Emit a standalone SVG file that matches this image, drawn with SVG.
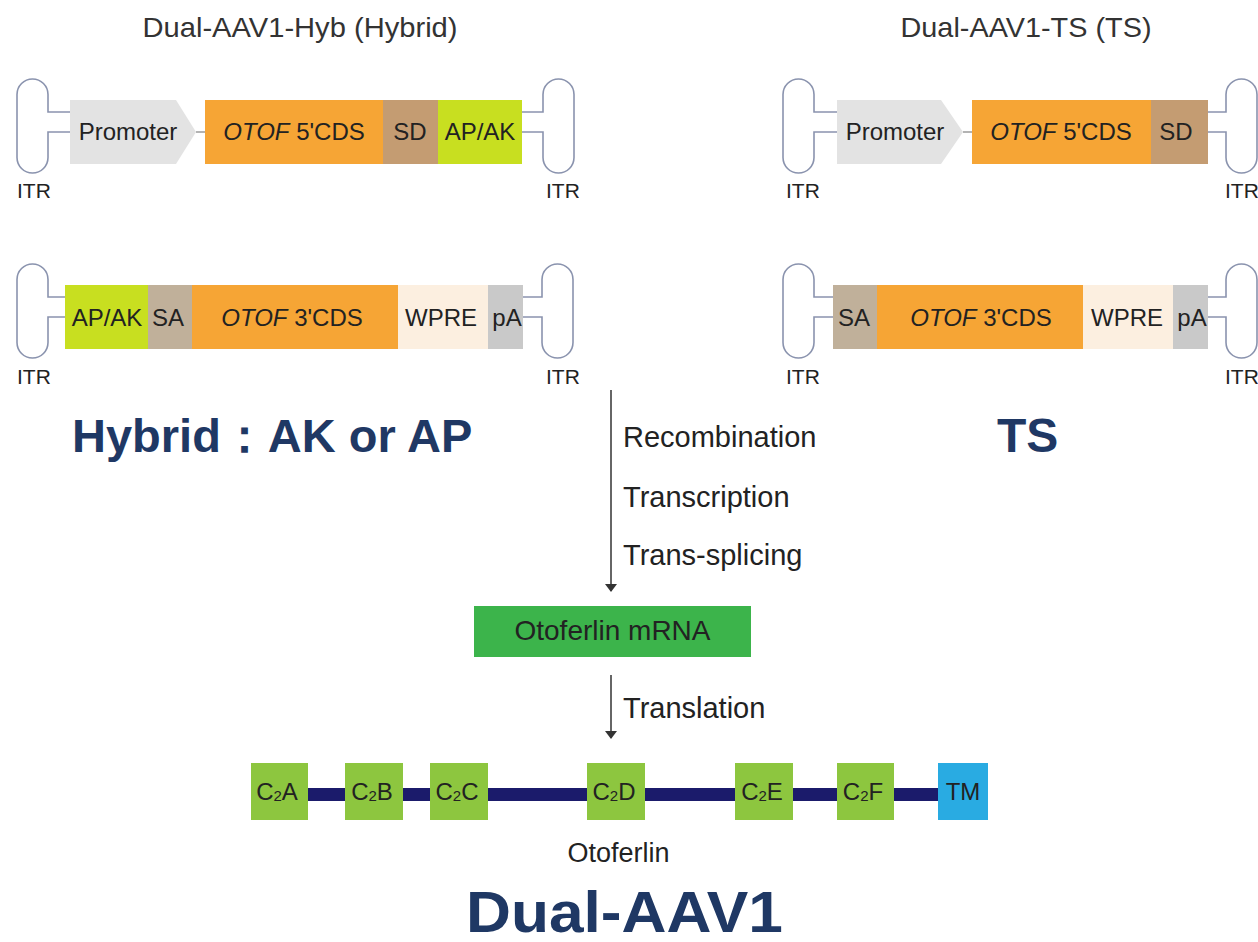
<svg xmlns="http://www.w3.org/2000/svg" width="1258" height="942" viewBox="0 0 1258 942">
<defs>
<style>
.itr{fill:none;stroke:#8a93ae;stroke-width:1.6}
.lnk{stroke:#9a9a9a;stroke-width:1.5}
.t{font-family:"Liberation Sans",Arial,sans-serif;fill:#222}
.lbl{font-size:24px;text-anchor:middle}
.it{font-style:italic}
.itrl{font-size:21px}
.title{font-size:28px;fill:#333;text-anchor:middle}
.step{font-size:29px}
.big{font-weight:bold;fill:#1f3864}
.dom{font-size:24px;text-anchor:middle}
.prom{fill:#e3e3e3}
.otof{fill:#f6a535}
.sd{fill:#c49c72}
.apak{fill:#c8df20}
.sa{fill:#c0b09a}
.wpre{fill:#fcefe0}
.pa{fill:#c9c9c9}
.c2{fill:#8dc63f}
.arr{stroke:#333;stroke-width:1.5;fill:none}
</style>
<marker id="ah" markerWidth="8" markerHeight="12" refX="7" refY="6" orient="auto" markerUnits="userSpaceOnUse" viewBox="0 0 8 12">
<path d="M0,0 L8,6 L0,12 Z" fill="#333"/>
</marker>
</defs>
<rect width="1258" height="942" fill="#ffffff"/>

<g id="titles">
<text class="t title" x="300" y="37" textLength="315" lengthAdjust="spacingAndGlyphs">Dual-AAV1-Hyb (Hybrid)</text>
<text class="t title" x="1026" y="37" textLength="251" lengthAdjust="spacingAndGlyphs">Dual-AAV1-TS (TS)</text>
</g>

<g id="connectors">
<line class="lnk" x1="196" y1="132" x2="205" y2="132"/>
<line class="lnk" x1="963" y1="132" x2="972" y2="132"/>
<line class="arr" x1="611" y1="390" x2="611" y2="591" marker-end="url(#ah)"/>
<line class="arr" x1="611" y1="675" x2="611" y2="738" marker-end="url(#ah)"/>
</g>

<g id="hyb-5">
<path class="itr" d="M70,112 H48 V94.5 A15.5 15.5 0 0 0 17 94.5 V157.5 A15.5 15.5 0 0 0 48 157.5 V132 H70"/>
<path class="itr" d="M522,112 H543 V94.5 A15.5 15.5 0 0 1 574 94.5 V157.5 A15.5 15.5 0 0 1 543 157.5 V132 H522"/>
<path class="prom" d="M70,100 H176 L196,132 L176,164 H70 Z"/>
<rect class="otof" x="205" y="100" width="178" height="64"/>
<rect class="sd" x="383" y="100" width="55" height="64"/>
<rect class="apak" x="438" y="100" width="84" height="64"/>
<text class="t lbl" x="128" y="140">Promoter</text>
<text class="t lbl" x="294" y="140"><tspan class="it">OTOF</tspan> 5'CDS</text>
<text class="t lbl" x="410" y="140">SD</text>
<text class="t lbl" x="480" y="140">AP/AK</text>
<text class="t itrl" x="17" y="198">ITR</text>
<text class="t itrl" x="546" y="198">ITR</text>
</g>

<g id="hyb-3">
<path class="itr" d="M65,297 H48 V279.5 A15.5 15.5 0 0 0 17 279.5 V342.5 A15.5 15.5 0 0 0 48 342.5 V317 H65"/>
<path class="itr" d="M523,297 H542 V279.5 A15.5 15.5 0 0 1 573 279.5 V342.5 A15.5 15.5 0 0 1 542 342.5 V317 H523"/>
<rect class="apak" x="65" y="285" width="83" height="64"/>
<rect class="sa" x="148" y="285" width="44" height="64"/>
<rect class="otof" x="192" y="285" width="206" height="64"/>
<rect class="wpre" x="398" y="285" width="90" height="64"/>
<rect class="pa" x="488" y="285" width="35" height="64"/>
<text class="t lbl" x="107" y="326">AP/AK</text>
<text class="t lbl" x="168" y="326">SA</text>
<text class="t lbl" x="292" y="326"><tspan class="it">OTOF</tspan> 3'CDS</text>
<text class="t lbl" x="441" y="326">WPRE</text>
<text class="t lbl" x="507" y="326">pA</text>
<text class="t itrl" x="17" y="384">ITR</text>
<text class="t itrl" x="546" y="384">ITR</text>
</g>

<g id="ts-5">
<path class="itr" d="M837,112 H814 V94.5 A15.5 15.5 0 0 0 783 94.5 V157.5 A15.5 15.5 0 0 0 814 157.5 V132 H837"/>
<path class="itr" d="M1208,112 H1226 V94.5 A15.5 15.5 0 0 1 1257 94.5 V157.5 A15.5 15.5 0 0 1 1226 157.5 V132 H1208"/>
<path class="prom" d="M837,100 H941 L963,132 L941,164 H837 Z"/>
<rect class="otof" x="972" y="100" width="179" height="64"/>
<rect class="sd" x="1151" y="100" width="57" height="64"/>
<text class="t lbl" x="895" y="140">Promoter</text>
<text class="t lbl" x="1061" y="140"><tspan class="it">OTOF</tspan> 5'CDS</text>
<text class="t lbl" x="1176" y="140">SD</text>
<text class="t itrl" x="786" y="198">ITR</text>
<text class="t itrl" x="1225" y="198">ITR</text>
</g>

<g id="ts-3">
<path class="itr" d="M833,297 H814 V279.5 A15.5 15.5 0 0 0 783 279.5 V342.5 A15.5 15.5 0 0 0 814 342.5 V317 H833"/>
<path class="itr" d="M1208,297 H1226 V279.5 A15.5 15.5 0 0 1 1257 279.5 V342.5 A15.5 15.5 0 0 1 1226 342.5 V317 H1208"/>
<rect class="sa" x="833" y="285" width="44" height="64"/>
<rect class="otof" x="877" y="285" width="206" height="64"/>
<rect class="wpre" x="1083" y="285" width="90" height="64"/>
<rect class="pa" x="1173" y="285" width="35" height="64"/>
<text class="t lbl" x="854" y="326">SA</text>
<text class="t lbl" x="981" y="326"><tspan class="it">OTOF</tspan> 3'CDS</text>
<text class="t lbl" x="1127" y="326">WPRE</text>
<text class="t lbl" x="1192" y="326">pA</text>
<text class="t itrl" x="786" y="384">ITR</text>
<text class="t itrl" x="1225" y="384">ITR</text>
</g>

<g id="headings">
<text class="t big" x="72" y="452" font-size="47" font-family="'Liberation Sans','Noto Sans CJK SC',sans-serif">Hybrid：AK or AP</text>
<text class="t big" x="997" y="452" font-size="48">TS</text>
</g>

<g id="steps">
<text class="t step" x="623" y="447">Recombination</text>
<text class="t step" x="623" y="507">Transcription</text>
<text class="t step" x="623" y="565">Trans-splicing</text>
<text class="t step" x="623" y="718">Translation</text>
</g>

<g id="mrna">
<rect x="474" y="606" width="277" height="51" fill="#3cb44b"/>
<text class="t" x="612.5" y="640" font-size="28" text-anchor="middle" fill="#1a1a1a">Otoferlin mRNA</text>
</g>

<g id="protein">
<rect x="300" y="788" width="645" height="13" fill="#1b1b6b"/>
<g id="c2a"><rect class="c2" x="251" y="763" width="57" height="57"/><text class="t dom" x="277" y="800">C<tspan font-size="15" dy="1">2</tspan><tspan dy="-1">A</tspan></text></g>
<g id="c2b"><rect class="c2" x="345" y="763" width="58" height="57"/><text class="t dom" x="372" y="800">C<tspan font-size="15" dy="1">2</tspan><tspan dy="-1">B</tspan></text></g>
<g id="c2c"><rect class="c2" x="430" y="763" width="58" height="57"/><text class="t dom" x="457" y="800">C<tspan font-size="15" dy="1">2</tspan><tspan dy="-1">C</tspan></text></g>
<g id="c2d"><rect class="c2" x="587" y="763" width="58" height="57"/><text class="t dom" x="614" y="800">C<tspan font-size="15" dy="1">2</tspan><tspan dy="-1">D</tspan></text></g>
<g id="c2e"><rect class="c2" x="735" y="763" width="58" height="57"/><text class="t dom" x="762" y="800">C<tspan font-size="15" dy="1">2</tspan><tspan dy="-1">E</tspan></text></g>
<g id="c2f"><rect class="c2" x="837" y="763" width="57" height="57"/><text class="t dom" x="863" y="800">C<tspan font-size="15" dy="1">2</tspan><tspan dy="-1">F</tspan></text></g>
<g id="tm"><rect x="938" y="763" width="50" height="57" fill="#29abe2"/><text class="t dom" x="963" y="800">TM</text></g>
<text class="t" x="618.5" y="862" font-size="27" text-anchor="middle">Otoferlin</text>
</g>

<g id="footer">
<text class="t big" x="624.5" y="932" font-size="58" text-anchor="middle" textLength="317" lengthAdjust="spacingAndGlyphs">Dual-AAV1</text>
</g>
</svg>
